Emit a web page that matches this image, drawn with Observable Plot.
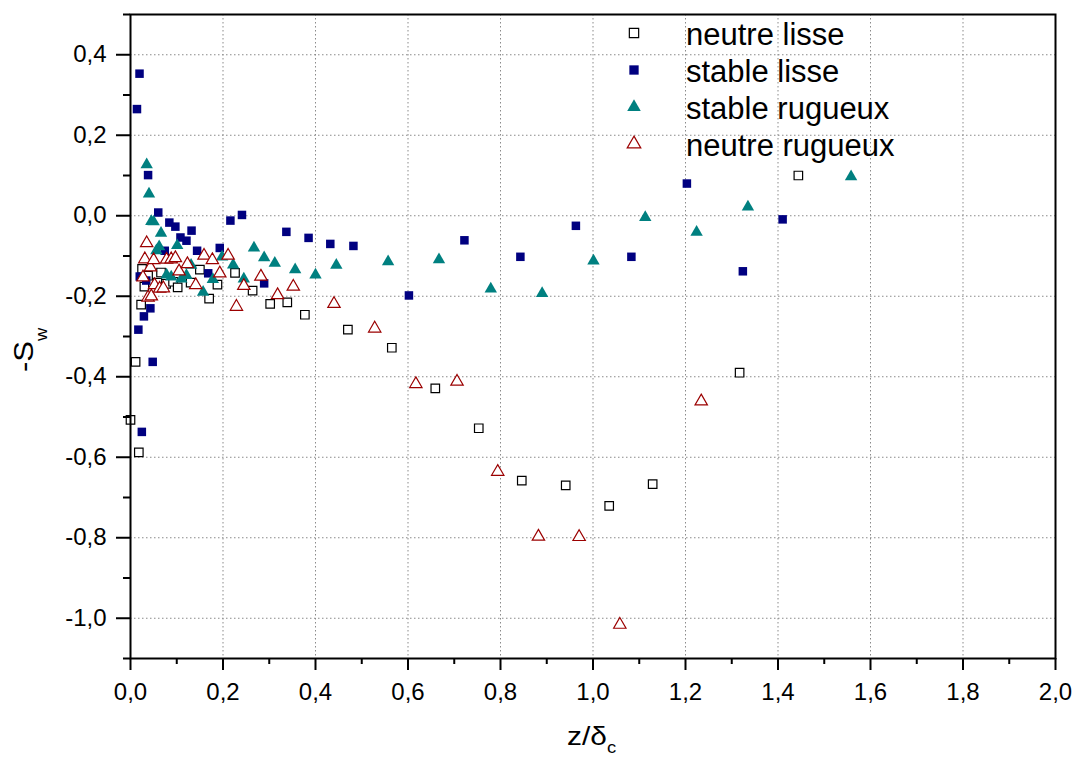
<!DOCTYPE html>
<html>
<head>
<meta charset="utf-8">
<script src="https://cdn.jsdelivr.net/npm/d3@7"></script>
<script src="https://cdn.jsdelivr.net/npm/@observablehq/plot@0.6"></script>
<style>
  body { margin: 0; background: #fff; }
  #chart { width: 1078px; height: 758px; }
</style>
</head>
<body>
<div id="chart"></div>
<script>
// Series: z/δc (x) and -Sw (y)
const seriesNames = ["neutre lisse", "stable lisse", "stable rugueux", "neutre rugueux"];

const xNeutreLisse = [0.000, 0.011, 0.018, 0.023, 0.025, 0.030, 0.038, 0.058, 0.066, 0.077, 0.092, 0.102, 0.130, 0.150, 0.170, 0.188, 0.226, 0.264, 0.302, 0.339, 0.377, 0.470, 0.565, 0.659, 0.753, 0.846, 0.941, 1.035, 1.129, 1.317, 1.444];
const yNeutreLisse = [-0.507, -0.363, -0.588, -0.221, -0.132, -0.176, -0.149, -0.166, -0.141, -0.169, -0.164, -0.178, -0.166, -0.134, -0.206, -0.171, -0.142, -0.186, -0.219, -0.215, -0.246, -0.283, -0.328, -0.429, -0.528, -0.658, -0.670, -0.721, -0.667, -0.390, 0.100];

const xStableLisse = [0.014, 0.017, 0.0195, 0.020, 0.0245, 0.029, 0.034, 0.038, 0.043, 0.048, 0.060, 0.074, 0.084, 0.097, 0.108, 0.121, 0.132, 0.144, 0.168, 0.193, 0.216, 0.241, 0.289, 0.337, 0.385, 0.432, 0.482, 0.602, 0.722, 0.843, 0.963, 1.083, 1.203, 1.324, 1.410];
const yStableLisse = [0.265, -0.283, 0.353, -0.151, -0.537, -0.250, -0.161, 0.101, -0.230, -0.363, 0.008, -0.087, -0.017, -0.027, -0.054, -0.062, -0.037, -0.087, -0.143, -0.080, -0.012, 0.002, -0.168, -0.040, -0.055, -0.070, -0.075, -0.198, -0.061, -0.102, -0.025, -0.102, 0.080, -0.138, -0.009];

const xStableRugueux = [0.035, 0.040, 0.045, 0.050, 0.056, 0.062, 0.066, 0.078, 0.088, 0.101, 0.110, 0.121, 0.131, 0.157, 0.178, 0.198, 0.222, 0.245, 0.267, 0.289, 0.312, 0.356, 0.400, 0.445, 0.557, 0.667, 0.779, 0.890, 1.001, 1.113, 1.224, 1.335, 1.558];
const yStableRugueux = [0.127, 0.054, -0.014, -0.015, -0.087, -0.077, -0.043, -0.147, -0.152, -0.074, -0.157, -0.148, -0.123, -0.190, -0.158, -0.102, -0.122, -0.157, -0.080, -0.104, -0.118, -0.134, -0.147, -0.123, -0.114, -0.109, -0.182, -0.193, -0.112, -0.004, -0.041, 0.022, 0.097];

const xNeutreRugueux = [0.027, 0.031, 0.035, 0.038, 0.043, 0.045, 0.050, 0.052, 0.063, 0.071, 0.078, 0.088, 0.097, 0.105, 0.123, 0.141, 0.159, 0.177, 0.193, 0.211, 0.229, 0.245, 0.282, 0.318, 0.352, 0.440, 0.528, 0.617, 0.706, 0.794, 0.882, 0.970, 1.058, 1.234];
const yNeutreRugueux = [-0.153, -0.108, -0.068, -0.203, -0.128, -0.200, -0.110, -0.172, -0.181, -0.180, -0.109, -0.108, -0.105, -0.138, -0.120, -0.172, -0.099, -0.110, -0.143, -0.099, -0.226, -0.174, -0.151, -0.197, -0.176, -0.219, -0.280, -0.418, -0.412, -0.636, -0.797, -0.798, -1.016, -0.461];

// Axis ticks
const xTicks = [0, 0.2, 0.4, 0.6, 0.8, 1.0, 1.2, 1.4, 1.6, 1.8, 2.0];
const xMinorTicks = [0.1, 0.3, 0.5, 0.7, 0.9, 1.1, 1.3, 1.5, 1.7, 1.9];
const yTicks = [-1.0, -0.8, -0.6, -0.4, -0.2, 0.0, 0.2, 0.4];
const yMinorTicks = [-1.1, -0.9, -0.7, -0.5, -0.3, -0.1, 0.1, 0.3, 0.5];

const pairs = (xs, ys) => xs.map((x, i) => ({x, y: ys[i]}));
const neutreLisse = pairs(xNeutreLisse, yNeutreLisse);
const stableLisse = pairs(xStableLisse, yStableLisse);
const stableRugueux = pairs(xStableRugueux, yStableRugueux);
const neutreRugueux = pairs(xNeutreRugueux, yNeutreRugueux);

const fmt = d => d.toFixed(1).replace(".", ",");
const FONT = "'Liberation Sans', Arial, sans-serif";

// Marker styles shared by the plot and the legend
const styles = [
  {symbol: "square", r: 4.8, fill: "white", stroke: "black", strokeWidth: 1.2},
  {symbol: "square", r: 4.8, fill: "#000080", stroke: "none", strokeWidth: 0},
  {symbol: "triangle", r: 4.6, fill: "#008080", stroke: "none", strokeWidth: 0},
  {symbol: "triangle", r: 4.6, fill: "white", stroke: "#9b0000", strokeWidth: 1.2}
];
const sets = [neutreLisse, stableLisse, stableRugueux, neutreRugueux];

const chart = Plot.plot({
  width: 1078,
  height: 758,
  marginLeft: 130,
  marginRight: 23,
  marginTop: 14,
  marginBottom: 100,
  style: {fontFamily: FONT, fontSize: "24px", background: "white", color: "black", overflow: "visible"},
  x: {domain: [0, 2]},
  y: {domain: [-1.1, 0.5]},
  marks: [
    Plot.gridX(xTicks.filter(v => v > 0 && v < 2), {stroke: "#8a8a8a", strokeOpacity: 1, strokeDasharray: "1.5,2.5"}),
    Plot.gridY(yTicks, {stroke: "#8a8a8a", strokeOpacity: 1, strokeDasharray: "1.5,2.5"}),
    ...sets.map((data, i) => Plot.dot(data, {x: "x", y: "y", ...styles[i]})),
    Plot.frame({stroke: "black", strokeWidth: 2}),
    Plot.axisX(xTicks, {tickSize: 12, tickPadding: 12, tickFormat: fmt, strokeWidth: 2, label: null}),
    Plot.axisX(xMinorTicks, {tickSize: 6, tickFormat: () => "", strokeWidth: 2, label: null}),
    Plot.axisY(yTicks, {tickSize: 14, tickPadding: 10, tickFormat: fmt, strokeWidth: 2, label: null}),
    Plot.axisY(yMinorTicks, {tickSize: 7, tickFormat: () => "", strokeWidth: 2, label: null})
  ]
});

document.getElementById("chart").appendChild(chart);

const svg = d3.select(chart);

// Axis titles with subscripts
const xTitle = svg.append("text")
  .attr("transform", "translate(567,745) scale(1.15,1)")
  .attr("text-anchor", "start")
  .attr("font-family", FONT).attr("font-size", 26).attr("fill", "black");
xTitle.append("tspan").text("z/δ");
xTitle.append("tspan").attr("font-size", 16).attr("dy", 8).text("c");

const yTitle = svg.append("text")
  .attr("transform", "translate(33,372) rotate(-90) scale(1.15,1)")
  .attr("text-anchor", "start")
  .attr("font-family", FONT).attr("font-size", 27).attr("fill", "black");
yTitle.append("tspan").text("-S");
yTitle.append("tspan").attr("font-size", 16).attr("dy", 14).text("w");

// Legend in the upper right of the plot area
const legend = svg.append("g").attr("transform", "translate(634,33)");
const symbolTypes = {square: d3.symbolSquare, triangle: d3.symbolTriangle};
seriesNames.forEach((name, i) => {
  const st = styles[i];
  const row = legend.append("g").attr("transform", `translate(0,${i * 37})`);
  row.append("path")
    .attr("d", d3.symbol(symbolTypes[st.symbol], Math.PI * st.r * st.r * 1.2)())
    .attr("fill", st.fill).attr("stroke", st.stroke).attr("stroke-width", st.strokeWidth);
  row.append("text")
    .attr("x", 52).attr("y", 11.5)
    .attr("text-anchor", "start")
    .attr("font-family", FONT).attr("font-size", 31).attr("fill", "black")
    .text(name);
});
</script>
</body>
</html>
